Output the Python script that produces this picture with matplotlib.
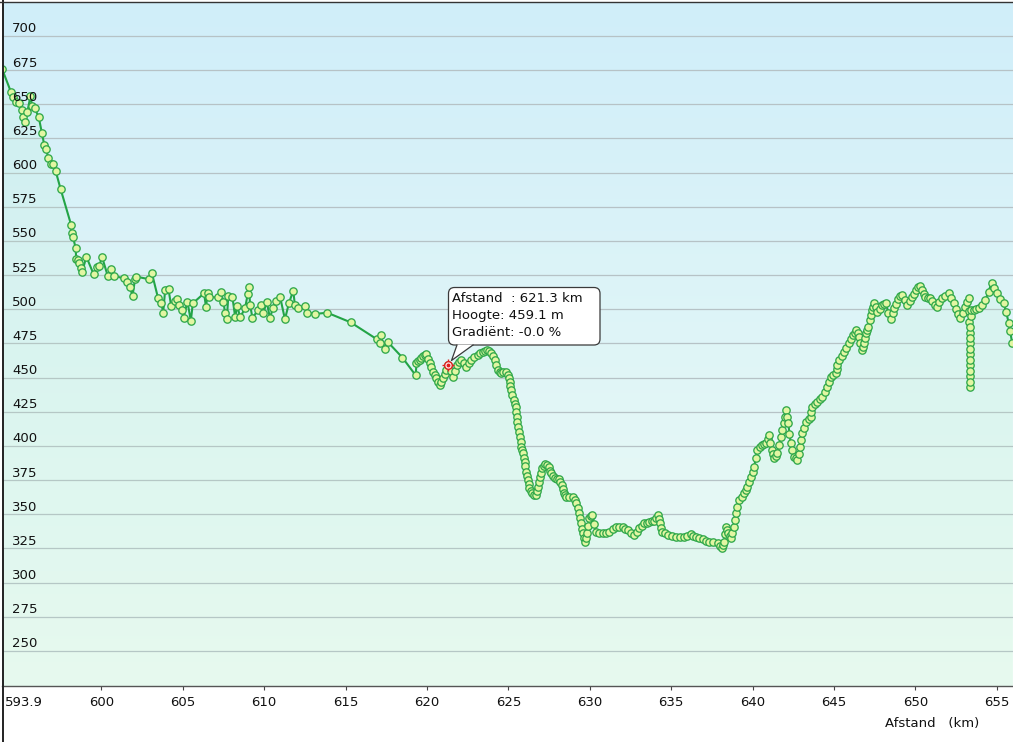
"""Hoogteprofiel (Afstand / Hoogte) met tooltip, nagebouwd in matplotlib."""

import numpy as np
import matplotlib
matplotlib.use("Agg")
import matplotlib.pyplot as plt
from matplotlib.patches import FancyBboxPatch, Polygon
from matplotlib.lines import Line2D

# --- data: afstand (km) en hoogte (m) ---
km_west = [593.9, 594.45, 594.6, 594.75, 594.95, 595.1, 595.2, 595.3, 595.45, 595.65,
           595.75, 595.9, 596.15, 596.35, 596.5, 596.6, 596.75, 596.9, 597.05, 597.2,
           597.5, 598.14, 598.18, 598.26, 598.42, 598.46, 598.57, 598.63, 598.77, 598.83,
           599.08, 599.53, 599.74, 599.88, 600.04, 600.39, 600.6, 600.8, 601.37, 601.58,
           601.74, 601.92, 602.07, 602.15, 602.94, 603.1, 603.49, 603.69, 603.8, 603.92,
           604.13, 604.29, 604.53, 604.64, 604.78, 604.95, 605.05, 605.29, 605.5, 605.62,
           606.31, 606.43, 606.54, 606.64, 607.19, 607.34, 607.5, 607.6, 607.71, 607.8,
           608.05, 608.22, 608.36, 608.52, 608.83, 608.99, 609.07, 609.14, 609.28, 609.65,
           609.81, 609.95, 610.16, 610.36, 610.53, 610.73, 610.98, 611.28, 611.53, 611.79,
           611.89, 612.1, 612.51, 612.65, 613.12, 613.88, 615.31, 616.94, 617.1, 617.16,
           617.41, 617.58, 618.5, 619.31]
m_west = [676, 659, 655, 652, 651, 646, 641, 637, 644, 656,
          649, 647, 641, 629, 620, 617, 611, 606, 606, 601,
          588, 562, 556, 553, 545, 537, 536, 534, 530, 527.5,
          538.5, 525.6, 530.7, 531.7, 538.5, 524.6, 529.3, 524.4, 522.7, 520.2,
          516.6, 509.8, 522, 523.9, 522, 526.8, 508, 504.4, 497.5, 514,
          514.6, 502.4, 506.3, 507.3, 503.2, 499.5, 493.9, 505.6, 491.5, 504.4,
          511.7, 501.9, 511.7, 508.8, 508.8, 513, 505.6, 497.5, 492.7, 509.7,
          509.2, 494.6, 502.4, 494.1, 500.7, 511.2, 516.1, 503.2, 493.9, 499.5,
          503.2, 497.1, 505.6, 493.4, 500.7, 506.3, 509.2, 492.7, 504.8, 513.6,
          503.2, 500.7, 502.4, 497.5, 496.6, 497.5, 490.5, 478, 475, 481,
          470.7, 476.3, 464.6, 451.7]

km_dal = [619.36, 619.46, 619.56, 619.66, 619.76, 619.86, 619.97, 620.07, 620.17, 620.28,
          620.38, 620.48, 620.58, 620.68, 620.78, 620.88, 620.99, 621.09, 621.19, 621.3,
          621.45, 621.6, 621.72, 621.84, 621.97, 622.11, 622.26, 622.42, 622.57, 622.72,
          622.92, 623.13, 623.28, 623.44, 623.56, 623.68, 623.82, 623.95, 624.05, 624.16,
          624.26, 624.36, 624.47, 624.57, 624.7, 624.83, 624.97, 625.03, 625.08, 625.13,
          625.18, 625.25, 625.32, 625.39, 625.45, 625.49, 625.53, 625.56, 625.59, 625.64,
          625.69, 625.75, 625.8, 625.85, 625.9, 625.95, 626.0, 626.05, 626.1, 626.15,
          626.2, 626.25, 626.3, 626.38, 626.46, 626.57, 626.67, 626.74, 626.81, 626.87,
          626.92, 627.0, 627.08, 627.18, 627.28, 627.39, 627.49, 627.56, 627.63, 627.73,
          627.84, 627.97, 628.1, 628.2, 628.31, 628.35, 628.39, 628.47, 628.55, 628.75,
          628.96, 629.07, 629.17, 629.25, 629.33, 629.4, 629.47, 629.52, 629.57, 629.62,
          629.68, 629.75, 629.82, 629.9, 629.98, 630.07, 630.15, 630.27, 630.39, 630.6,
          630.8, 631.0, 631.21, 631.42, 631.62, 631.82, 632.02, 632.18, 632.33, 632.54,
          632.74, 632.9, 633.05, 633.2, 633.35, 633.5, 633.66, 633.82, 633.97, 634.07,
          634.17, 634.25, 634.32, 634.38, 634.44, 634.6, 634.78, 635.04, 635.29, 635.55,
          635.8, 636.0, 636.21, 636.37, 636.52, 636.72, 636.93, 637.13, 637.34, 637.6,
          637.85, 638.0, 638.12, 638.19, 638.26, 638.33, 638.4, 638.46, 638.52, 638.6,
          638.67, 638.77, 638.87, 638.92, 638.97, 639.07, 639.18, 639.33, 639.48, 639.59,
          639.69, 639.79, 639.89, 640.0]
m_dal = [460.5, 462, 463, 464.5, 465.5, 466.5, 467.3, 464, 460.5, 457.5,
         454.4, 452, 449.5, 447, 444.6, 447, 449.5, 452.5, 455.6, 459.1,
         455, 450.7, 455, 459.3, 461.5, 462.9, 460.5, 458, 460.5, 462.9,
         465, 466.6, 468, 469, 469.8, 470.2, 469.5, 467.8, 465.5, 462.9,
         459, 455.6, 454, 453.2, 454, 454.4, 451.9, 449.5, 447, 444,
         441, 437.5, 433.6, 431, 428.8, 425, 421.4, 417.8, 414.1, 410.5,
         406.8, 403, 399.5, 397, 394.6, 391.5, 388.5, 385, 381.2, 378,
         375.1, 372, 369, 367, 365.4, 364.5, 364.1, 367, 370.2, 374,
         377.5, 380.5, 383.7, 385.5, 386.8, 385.8, 384.4, 382, 380, 378,
         376.4, 376, 375.6, 373.5, 371.5, 368.5, 365.4, 364, 362.9, 363,
         362.9, 360.5, 358.1, 354.5, 350.7, 347, 343.4, 339.5, 336.1, 333,
         330, 333, 336.1, 341.5, 347.1, 348.5, 349.5, 343, 337.3, 336.5,
         336.1, 336.5, 337.3, 339.5, 341, 341, 341, 339.5, 338.5, 336.5,
         334.9, 337, 339.8, 341.5, 343.4, 344, 344.2, 344.8, 345.3, 347.5,
         349.5, 346.5, 343.4, 340, 337.3, 336, 334.9, 334.2, 333.6, 333.6,
         333.6, 334.5, 335.6, 334.5, 333.6, 332.6, 331.7, 330.8, 330, 329.4,
         328.8, 327, 325.1, 327.5, 330, 335.5, 341, 338.5, 336.1, 334,
         332.5, 336.5, 341, 346, 350.7, 355.5, 360.5, 363, 365.4, 367.8,
         370.2, 374, 377.5, 381]

km_oost = [640.1, 640.2, 640.3, 640.45, 640.61, 640.73, 640.85, 640.94, 641.02, 641.1,
           641.18, 641.25, 641.32, 641.43, 641.53, 641.64, 641.74, 641.84, 641.94, 642.01,
           642.08, 642.14, 642.2, 642.27, 642.35, 642.45, 642.55, 642.65, 642.75, 642.83,
           642.9, 642.98, 643.06, 643.18, 643.31, 643.44, 643.57, 643.62, 643.67, 643.83,
           643.98, 644.14, 644.29, 644.44, 644.59, 644.7, 644.8, 644.95, 645.11, 645.16,
           645.21, 645.31, 645.47, 645.62, 645.77, 645.92, 646.04, 646.17, 646.27, 646.37,
           646.45, 646.54, 646.62, 646.7, 646.77, 646.84, 646.9, 646.95, 647.03, 647.11,
           647.19, 647.25, 647.31, 647.39, 647.46, 647.56, 647.66, 647.8, 647.97, 648.1,
           648.21, 648.34, 648.5, 648.6, 648.68, 648.8, 648.95, 649.07, 649.19, 649.35,
           649.5, 649.65, 649.8, 649.91, 650.05, 650.15, 650.26, 650.4, 650.52, 650.62,
           650.78, 650.93, 651.05, 651.2, 651.33, 651.48, 651.64, 651.85, 652.05, 652.2,
           652.36, 652.5, 652.65, 652.77, 652.92, 653.07, 653.18, 653.28, 653.32, 653.325,
           653.33, 653.335, 653.34, 653.345, 653.35, 653.355, 653.36, 653.365, 653.37, 653.375,
           653.38, 653.385, 653.39, 653.45, 653.6, 653.75, 653.9, 654.1, 654.3, 654.5,
           654.68, 654.85, 655.02, 655.2, 655.43, 655.58, 655.74, 655.82, 655.95]
m_oost = [384.8, 391, 397.1, 399, 400.7, 401.4, 402, 405, 408, 402.5,
          397.1, 394, 391, 392.8, 394.6, 400.7, 406.8, 411.5, 416.5, 421.5,
          426.3, 421.5, 416.5, 409, 402, 397, 392.2, 391, 389.8, 394.5,
          399.5, 404.5, 409.3, 413.5, 417.8, 419.6, 421.4, 425, 428.8, 430.6,
          432.4, 434.2, 436.1, 439.7, 443.4, 447, 450.7, 452, 453.2, 456.2,
          459.3, 462.9, 466, 469, 472, 475.1, 478, 481.2, 483, 484.9,
          482.5, 480, 475, 470.2, 472.6, 475.1, 479, 482.4, 485, 487.3,
          492.2, 496, 499.5, 502, 504.4, 501.5, 498.3, 500, 503.2, 504,
          504.4, 497.1, 493, 497, 500.7, 504, 507.5, 509.5, 510.5, 507,
          503.2, 506, 509.2, 511, 514, 516, 517.1, 514, 511, 509.2,
          508.5, 508, 506, 503.5, 501.9, 505, 508, 510, 511.7, 508,
          504.4, 500, 496.5, 493.4, 497.5, 501.9, 505, 508, 499, 491,
          483, 475, 467, 459, 451, 443, 447, 455, 463, 471,
          479, 487, 495, 499.5, 499.5, 500, 500.7, 503.5, 506.8, 513,
          519.4, 515.5, 511.7, 507.5, 504.4, 498, 489.8, 484, 475.5]

y_ticks = list(range(250, 701, 25))
x_ticks = [600, 605, 610, 615, 620, 625, 630, 635, 640, 645, 650, 655]
x_start = 593.9

cursor_km = 621.3
cursor_m = 459.1
cursor_grad = -0.0

assert len(km_west) == len(m_west)
assert len(km_dal) == len(m_dal)
assert len(km_oost) == len(m_oost)

afstand = np.array(km_west + km_dal + km_oost)
hoogte = np.array(m_west + m_dal + m_oost)

# --- figuur ---
W, H = 1013, 742
FONT = 9.5
plt.rcParams["font.family"] = ["DejaVu Sans"]

fig = plt.figure(figsize=(W / 100, H / 100), dpi=100)
fig.patch.set_facecolor("white")

ax = fig.add_axes([2 / W, 56 / H, (W - 2) / W, 683 / H])
xmin, xmax = x_start, 656.0
ymin, ymax = 224.4, 724.1
ax.set_xlim(xmin, xmax)
ax.set_ylim(ymin, ymax)

# achtergrond: verloop van lichtblauw naar lichtgroen
top = np.array([208, 238, 250]) / 255
bot = np.array([238, 252, 244]) / 255
t = np.linspace(0, 1, 256)[:, None]
grad = top * (1 - t) + bot * t
ax.imshow(grad[:, None, :], aspect="auto", extent=[xmin, xmax, ymin, ymax],
          origin="upper", zorder=0, interpolation="bilinear")

for v in y_ticks:
    ax.axhline(v, color="#b6c2c6", lw=0.9, zorder=1)
    ax.text(0.0098, v + 2.6, str(v), transform=ax.get_yaxis_transform(),
            fontsize=FONT, color="#111111", va="baseline", ha="left", zorder=6)

# lichte groene tint onder het profiel
ax.fill_between(afstand, hoogte, ymin, color="#b4f0c4", alpha=0.12, lw=0, zorder=2)
ax.plot(afstand, hoogte, color="#23a446", lw=1.5, marker="o", ms=5.3,
        mfc="#e2f6a2", mec="#2fa84a", mew=0.95, zorder=3)

# cursor
ax.plot(cursor_km, cursor_m, marker="+", ms=9, mec="#e02020", mew=1.0, zorder=7)
ax.plot(cursor_km, cursor_m, marker="o", ms=5.5, mfc="#fff4f4", mec="#e02020",
        mew=1.0, zorder=7)
ax.plot(cursor_km, cursor_m, marker="o", ms=1.8, mfc="#e02020", mec="#e02020", zorder=8)

ax.set_yticks([])
ax.set_xticks(x_ticks)
ax.tick_params(axis="x", direction="out", length=3.2, width=0.8, color="#444444",
               labelsize=FONT, labelcolor="#111111", pad=4.0)
for s in ("left", "right", "top"):
    ax.spines[s].set_visible(False)
ax.spines["bottom"].set_color("#555555")
ax.spines["bottom"].set_linewidth(1.0)

# overlay in pixelcoordinaten voor rand, as-titel en tooltip
ov = fig.add_axes([0, 0, 1, 1])
ov.set_xlim(0, W)
ov.set_ylim(H, 0)
ov.axis("off")

ov.add_line(Line2D([2.5, 2.5], [0, H], color="#222222", lw=1.4))
ov.add_line(Line2D([0, W], [2.2, 2.2], color="#333333", lw=1.0))

ov.text(5, 696, f"{x_start}", fontsize=FONT, color="#111111", ha="left", va="top")
ov.text(885, 724, "Afstand   (km)", fontsize=FONT, color="#111111", ha="left", va="center")

box = FancyBboxPatch((448.5, 287.5), 151.5, 57.5,
                     boxstyle="round,pad=0,rounding_size=6",
                     fc="white", ec="#3a3a3a", lw=0.9, zorder=10)
ov.add_patch(box)
ov.add_patch(Polygon([(457, 344.6), (473, 344.6), (451.5, 360.5)], closed=True,
                     fc="white", ec="none", zorder=11))
ov.add_line(Line2D([457, 451.5, 473], [345, 360.5, 345], color="#3a3a3a", lw=0.9, zorder=12))

lines = [f"Afstand  : {cursor_km:.1f} km",
         f"Hoogte: {cursor_m:.1f} m",
         f"Gradiënt: {cursor_grad:.1f} %"]
for i, txt in enumerate(lines):
    ov.text(452, 299 + 17 * i, txt, fontsize=FONT, color="#111111",
            ha="left", va="center", zorder=13)

fig.savefig("out.png", dpi=100)
